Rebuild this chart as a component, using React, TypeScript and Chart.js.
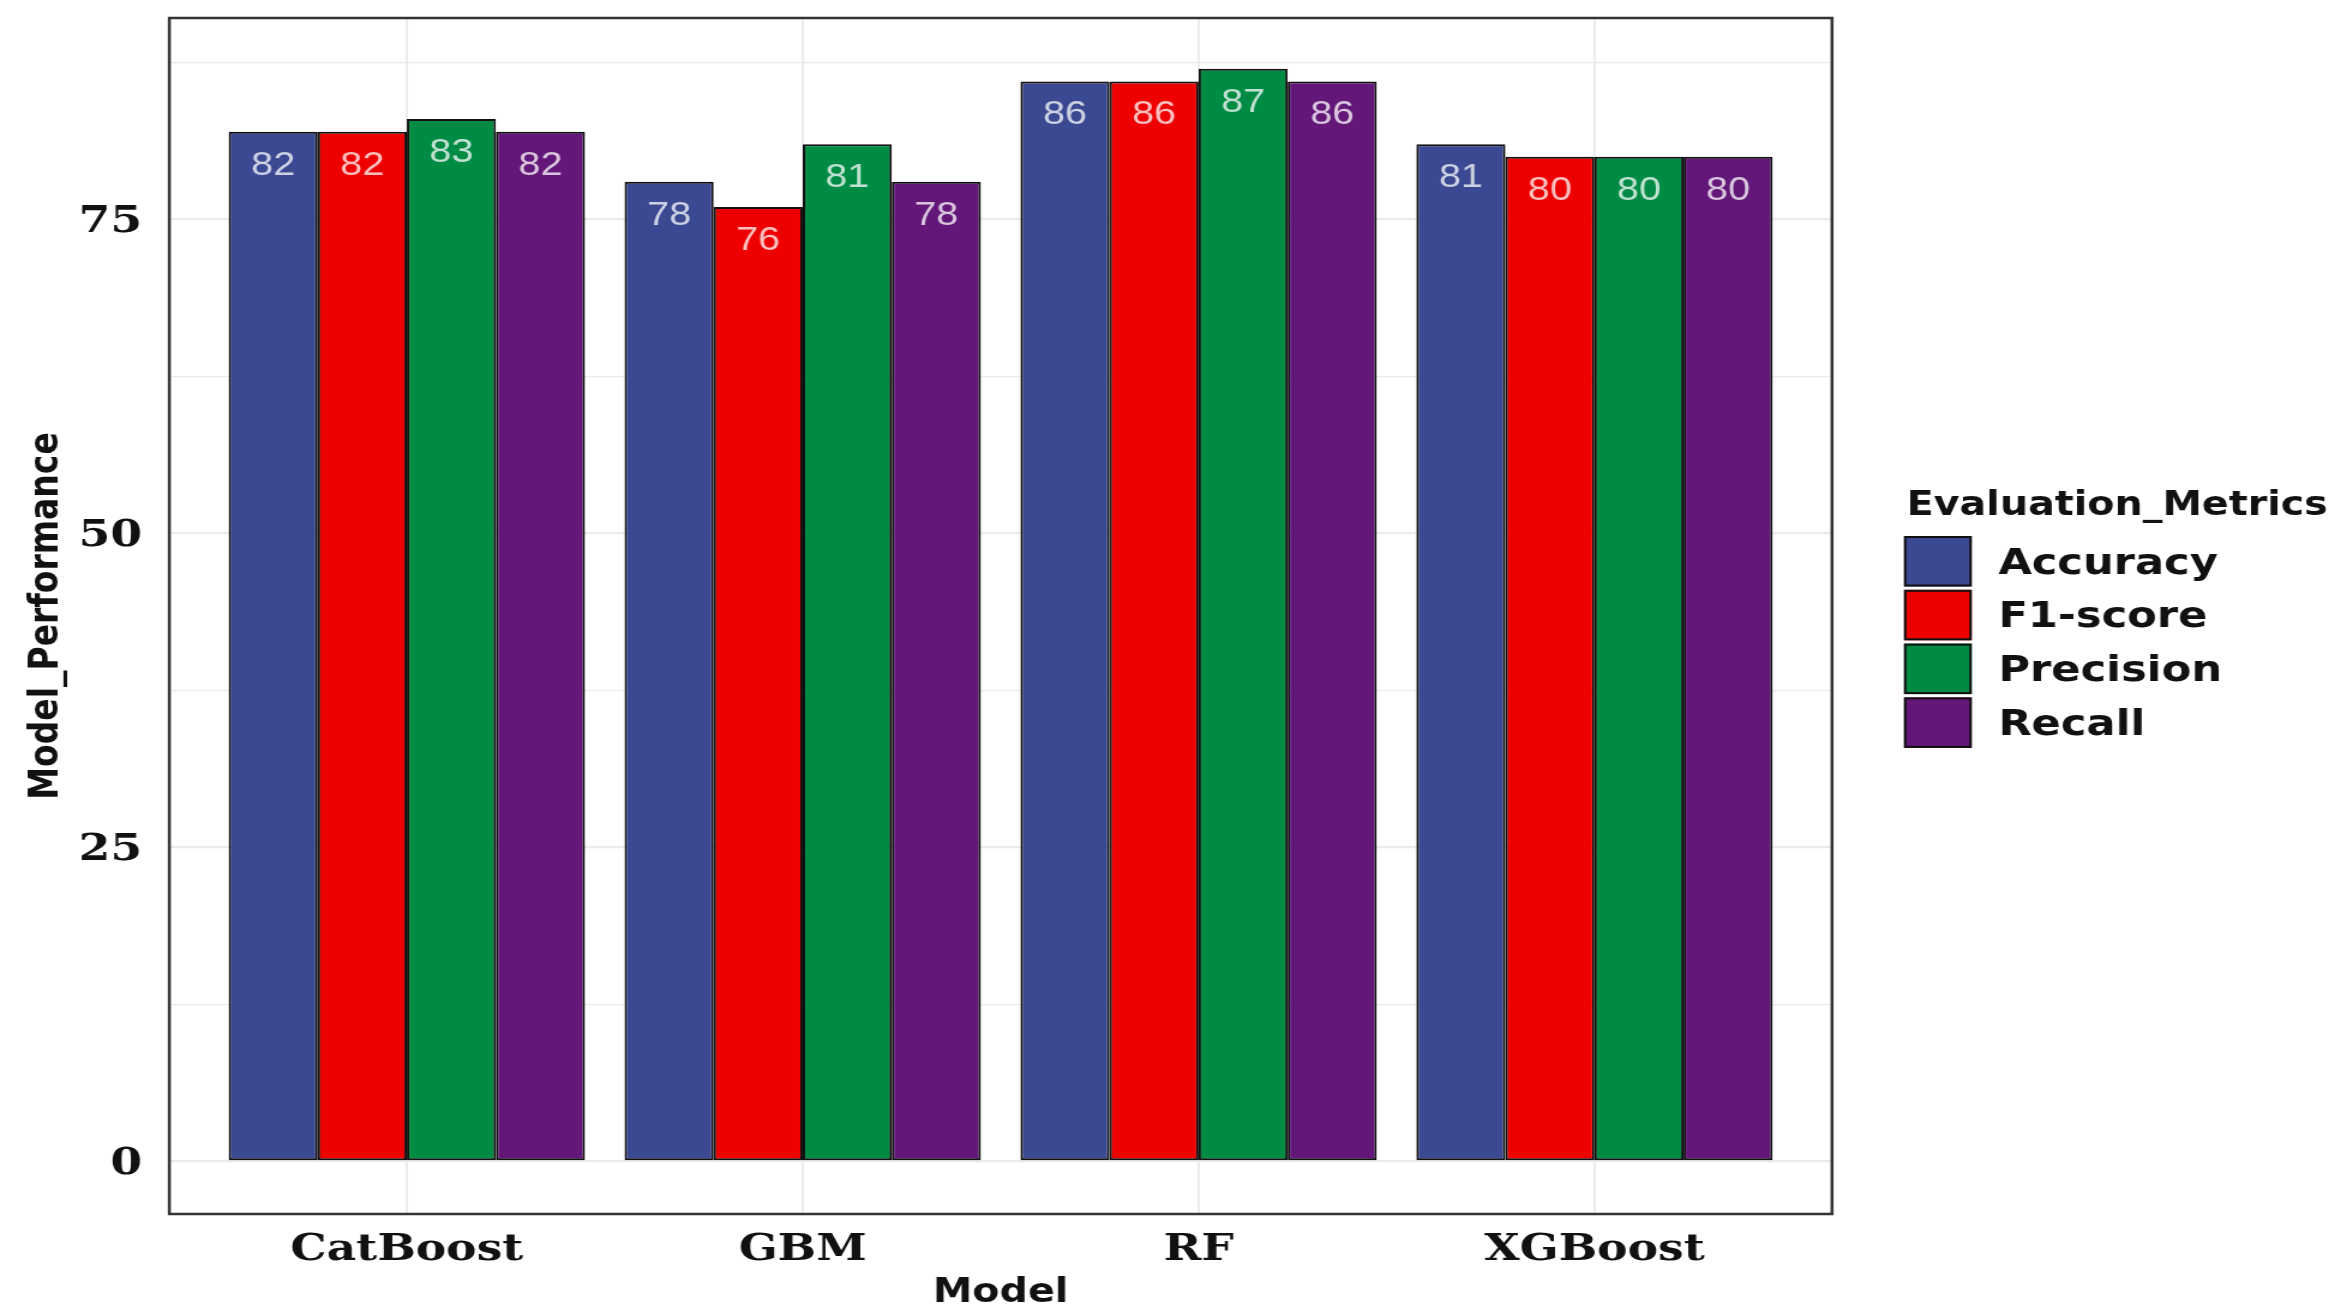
import React, { useEffect, useRef } from 'react';
import { Chart, registerables } from 'chart.js';

Chart.register(...registerables);

// ---- data ----
const models = ['CatBoost', 'GBM', 'RF', 'XGBoost'];
const metrics = ['Accuracy', 'F1-score', 'Precision', 'Recall'];
const accuracy = [82, 78, 86, 81];
const f1Score = [82, 76, 86, 80];
const precision = [83, 81, 87, 80];
const recall = [82, 78, 86, 80];
const metricColors = ['#3B4992', '#EE0000', '#008B45', '#631879'];
const yTickValues = [0, 12.5, 25, 37.5, 50, 62.5, 75, 87.5];
const yLabelValues = [0, 25, 50, 75];
const xTitle = 'Model';
const yTitle = 'Model_Performance';
const legendTitle = 'Evaluation_Metrics';

// ---- geometry (canvas is drawn narrower and stretched horizontally) ----
const W = 2341;
const H = 1312;
const CW = 1951;
const F = CW / W;

const SANS = '"DejaVu Sans", "Liberation Sans", sans-serif';
const SERIF = '"DejaVu Serif", "Liberation Serif", serif';

const panelBorder = {
  id: 'panelBorder',
  afterDatasetsDraw(chart: any) {
    const { ctx, chartArea: a } = chart;
    ctx.save();
    ctx.strokeStyle = '#333333';
    ctx.lineWidth = 2.5;
    ctx.strokeRect(a.left, a.top, a.right - a.left, a.bottom - a.top);
    ctx.restore();
  },
};

const valueLabels = {
  id: 'valueLabels',
  afterDatasetsDraw(chart: any) {
    const ctx = chart.ctx;
    ctx.save();
    ctx.font = '33px "Liberation Sans", Arial, sans-serif';
    ctx.fillStyle = 'rgba(255,255,255,0.75)';
    ctx.textAlign = 'center';
    ctx.textBaseline = 'alphabetic';
    chart.data.datasets.forEach((ds: any, i: number) => {
      const meta = chart.getDatasetMeta(i);
      meta.data.forEach((el: any, j: number) => {
        const v = ds.data[j].y;
        ctx.fillText(String(v), el.x, el.y + 43);
      });
    });
    ctx.restore();
  },
};

const customLegend = {
  id: 'customLegend',
  afterDraw(chart: any) {
    const ctx = chart.ctx;
    ctx.save();
    ctx.fillStyle = '#111111';
    ctx.textAlign = 'left';
    ctx.textBaseline = 'alphabetic';
    ctx.font = `bold 33px ${SANS}`;
    ctx.fillText(legendTitle, 1906.7 * F, 515);
    const keyX = 1904 * F;
    const keyW = 67.7 * F;
    const top0 = 536;
    const step = 53.8;
    const keyH = 50.5;
    chart.data.datasets.forEach((ds: any, i: number) => {
      const t = top0 + i * step;
      ctx.fillStyle = ds.backgroundColor;
      ctx.fillRect(keyX, t, keyW, keyH);
      ctx.strokeStyle = '#111111';
      ctx.lineWidth = 2;
      ctx.strokeRect(keyX + 1, t + 1, keyW - 2, keyH - 2);
      ctx.fillStyle = '#111111';
      ctx.font = `bold 36px ${SANS}`;
      ctx.fillText(ds.label, 1998.3 * F, t + 37.5);
    });
    ctx.restore();
  },
};

export default function App() {
  const ref = useRef<HTMLCanvasElement | null>(null);

  useEffect(() => {
    if (!ref.current) return;
    const series = [accuracy, f1Score, precision, recall];
    const datasets = metrics.map((m, i) => ({
      label: m,
      data: models.map((_, k) => ({ x: k + 1, y: series[i][k] })),
      backgroundColor: metricColors[i],
      borderColor: '#111111',
      borderWidth: 2,
      borderSkipped: false,
      categoryPercentage: 0.9,
      barPercentage: 1.0,
    }));

    const panelLeft = 169.3 * F;
    const panelRight = 1832 * F;

    const chart = new Chart(ref.current, {
      type: 'bar',
      data: { datasets },
      plugins: [panelBorder, valueLabels, customLegend],
      options: {
        animation: false,
        responsive: false,
        devicePixelRatio: 1,
        layout: {
          padding: { left: 0, top: 18, right: CW - panelRight, bottom: 0 },
        },
        plugins: {
          legend: { display: false },
          tooltip: { enabled: false },
          title: { display: false },
        },
        scales: {
          x: {
            type: 'linear',
            min: 0.4,
            max: 4.6,
            offset: false,
            afterBuildTicks: (scale: any) => {
              scale.ticks = models.map((_, k) => ({ value: k + 1 }));
            },
            afterFit: (scale: any) => {
              scale.height = H - 1214;
              scale.paddingLeft = 0;
              scale.paddingRight = 0;
              scale.paddingTop = 0;
              scale.paddingBottom = 0;
            },
            ticks: {
              autoSkip: false,
              maxRotation: 0,
              minRotation: 0,
              padding: 13.7,
              color: '#111111',
              font: { family: SERIF, weight: 'bold', size: 38, lineHeight: 1.2 },
              callback: (v: any) => models[Math.round(Number(v)) - 1] ?? '',
            },
            grid: {
              color: '#EBEBEB',
              lineWidth: 2,
              drawTicks: false,
              offset: false,
            },
            border: { display: false },
            title: {
              display: true,
              text: xTitle,
              color: '#111111',
              font: { family: SANS, weight: 'bold', size: 33, lineHeight: 1.1 },
              padding: { top: 0, bottom: 0 },
            },
          },
          y: {
            type: 'linear',
            min: -4.2,
            max: 91.05,
            afterBuildTicks: (scale: any) => {
              scale.ticks = yTickValues.map((v) => ({ value: v }));
            },
            afterFit: (scale: any) => {
              scale.width = panelLeft;
              scale.paddingLeft = 0;
              scale.paddingRight = 0;
              scale.paddingTop = 0;
              scale.paddingBottom = 0;
            },
            ticks: {
              padding: 22.6,
              labelOffset: 3,
              color: '#111111',
              font: { family: SERIF, weight: 'bold', size: 38, lineHeight: 1.2 },
              callback: (v: any) => (yLabelValues.includes(Number(v)) ? String(v) : ''),
            },
            grid: {
              color: '#EBEBEB',
              lineWidth: (ctx: any) =>
                ctx.tick && yLabelValues.includes(ctx.tick.value) ? 2.2 : 1.2,
              drawTicks: false,
            },
            border: { display: false },
            title: {
              display: true,
              text: yTitle,
              color: '#111111',
              font: { family: SANS, weight: 'bold', size: 33, lineHeight: 1.1 },
              padding: { top: 21.5, bottom: 0 },
            },
          },
        },
      } as any,
    });

    return () => {
      chart.destroy();
    };
  }, []);

  return (
    <div
      style={{
        position: 'absolute',
        left: 0,
        top: 0,
        width: W + 'px',
        height: H + 'px',
        overflow: 'hidden',
        background: '#ffffff',
      }}
    >
      <canvas
        ref={ref}
        width={CW}
        height={H}
        style={{
          display: 'block',
          width: CW + 'px',
          height: H + 'px',
          transform: `scaleX(${W / CW})`,
          transformOrigin: '0 0',
        }}
      />
    </div>
  );
}
